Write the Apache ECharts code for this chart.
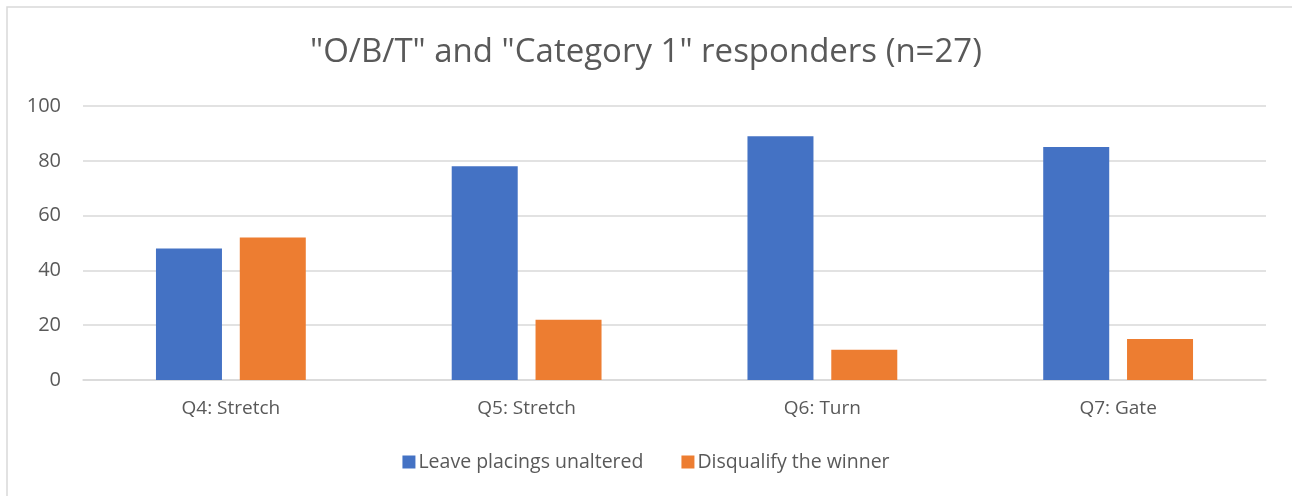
<!DOCTYPE html>
<html>
<head>
<meta charset="utf-8">
<script src="https://cdn.jsdelivr.net/npm/echarts@6/dist/echarts.min.js"></script>
<style>
  html, body { margin: 0; padding: 0; background: #fff; }
  #main { width: 1292px; height: 496px; }
</style>
</head>
<body>
<div id="main"></div>
<script>
var categories = ['Q4: Stretch', 'Q5: Stretch', 'Q6: Turn', 'Q7: Gate'];
var leaveUnaltered = [48, 78, 89, 85];
var disqualifyWinner = [52, 22, 11, 15];
var seriesNames = ['Leave placings unaltered', 'Disqualify the winner'];

var font = '"Open Sans", sans-serif';
var chart = echarts.init(document.getElementById('main'));
chart.setOption({
  animation: false,
  graphic: [{
    type: 'rect',
    shape: { x: 7, y: 7, width: 1300, height: 500 },
    style: { fill: 'none', stroke: '#d9d9d9', lineWidth: 1.5 },
    silent: true
  }],
  title: {
    text: '"O/B/T" and "Category 1" responders (n=27)',
    left: 'center',
    top: 31,
    textStyle: { fontFamily: font, fontSize: 33, fontWeight: 'normal', color: '#595959' }
  },
  legend: {
    bottom: 19,
    left: 'center',
    itemWidth: 13,
    itemHeight: 13,
    itemGap: 38,
    icon: 'rect',
    textStyle: { fontFamily: font, fontSize: 19.5, color: '#595959', padding: [0, 0, 0, -2] },
    data: seriesNames
  },
  grid: { left: 83, right: 26, top: 106, bottom: 116 },
  xAxis: {
    type: 'category',
    data: categories,
    axisLine: { lineStyle: { color: '#d9d9d9', width: 1.5 } },
    axisTick: { show: false },
    axisLabel: { fontFamily: font, fontSize: 19, color: '#595959', margin: 19 }
  },
  yAxis: {
    type: 'value',
    min: 0,
    max: 100,
    interval: 20,
    splitLine: { lineStyle: { color: '#d9d9d9', width: 1.5 } },
    axisLine: { show: false },
    axisTick: { show: false },
    axisLabel: { fontFamily: font, fontSize: 20, color: '#595959', margin: 22 }
  },
  series: [
    {
      name: seriesNames[0],
      type: 'bar',
      data: leaveUnaltered,
      barWidth: 66,
      barGap: '27%',
      itemStyle: { color: '#4472c4' }
    },
    {
      name: seriesNames[1],
      type: 'bar',
      data: disqualifyWinner,
      barWidth: 66,
      itemStyle: { color: '#ed7d31' }
    }
  ]
});
</script>
</body>
</html>
